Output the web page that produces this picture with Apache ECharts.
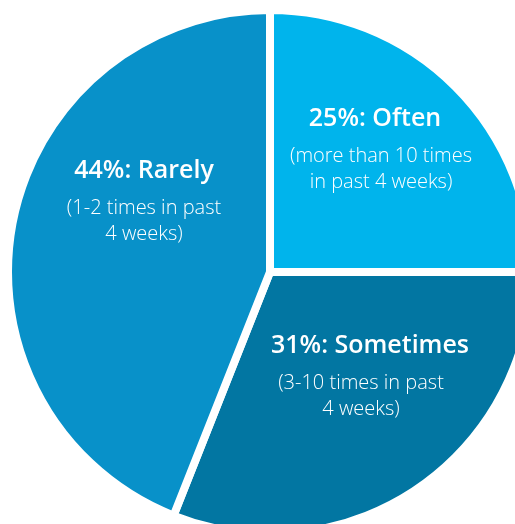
<!DOCTYPE html>
<html>
<head>
<meta charset="utf-8">
<script src="https://cdn.jsdelivr.net/npm/echarts@6/dist/echarts.min.js"></script>
<style>
  html, body { margin: 0; padding: 0; background: #ffffff; }
  #chart { width: 515px; height: 524px; }
</style>
</head>
<body>
<div id="chart"></div>
<script>
// Share of respondents by frequency over the past 4 weeks
const categories = ['Often', 'Sometimes', 'Rarely'];
const shares = [25, 31, 44];
const details = [
  ['(more than 10 times', 'in past 4 weeks)'],
  ['(3-10 times in past', '4 weeks)'],
  ['(1-2 times in past', '4 weeks)']
];

const sliceColors = ['#00b4ec', '#0276a2', '#0891c9'];
// label anchor points (centre of each text block)
const labelAnchors = [[381, 145], [370, 372], [144, 197]];
const titleShift = [[0, 12, 0, 0], [0, 0, 0, 0], [0, 0, 0, 0]];
const detailShift = [[0, 0, 0, 0], [0, 18, 0, 0], [0, 0, 0, 0]];

const FONT = '"Open Sans", "Noto Sans", sans-serif';

const chart = echarts.init(document.getElementById('chart'), null, { renderer: 'canvas' });

const seriesData = categories.map((name, i) => ({
  name: name,
  value: shares[i],
  itemStyle: { color: sliceColors[i] },
  label: {
    formatter: '{t|' + shares[i] + '%: ' + name + '}\n' +
      details[i].map(s => '{s|' + s + '}').join('\n'),
    rich: {
      t: { fontFamily: FONT, fontSize: 25, fontWeight: 600, color: '#ffffff', lineHeight: 48, align: 'center', padding: titleShift[i] },
      s: { fontFamily: FONT, fontSize: 20, fontWeight: 300, color: '#ffffff', lineHeight: 26, align: 'center', padding: detailShift[i] }
    }
  }
}));

chart.setOption({
  animation: false,
  backgroundColor: '#ffffff',
  series: [{
    type: 'pie',
    center: [270, 272],
    radius: [0, 262],
    startAngle: 90,
    clockwise: true,
    silent: true,
    itemStyle: { borderColor: '#ffffff', borderWidth: 8 },
    label: { show: true, position: 'inside', color: '#ffffff' },
    labelLine: { show: false },
    labelLayout: function (params) {
      const p = labelAnchors[params.dataIndex];
      return { x: p[0], y: p[1], align: 'center', verticalAlign: 'middle' };
    },
    data: seriesData
  }]
});
</script>
</body>
</html>
